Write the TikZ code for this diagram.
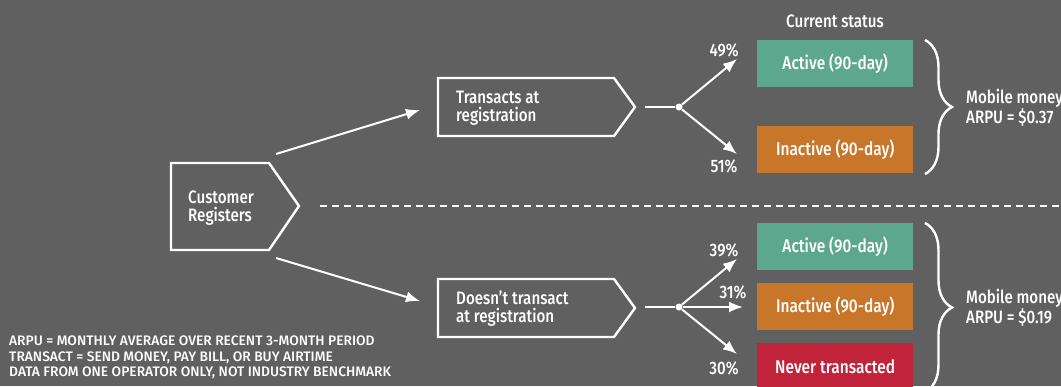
\documentclass[tikz,border=0pt]{standalone}
\usepackage{fontspec}
\setmainfont{Fira Sans}[UprightFont=* Medium,FakeStretch=0.84]
\newfontfamily\notefont{Fira Sans}[UprightFont=* Medium]
\usetikzlibrary{arrows.meta,decorations.pathreplacing}
\definecolor{bg}{RGB}{96,96,96}
\definecolor{actg}{RGB}{94,167,143}
\definecolor{inor}{RGB}{200,118,42}
\definecolor{nvrd}{RGB}{193,36,58}
\tikzset{
  txt/.style={text=white,font=\fontsize{18}{18}\selectfont,align=left,inner sep=0pt},
  pct/.style={text=white,font=\fontsize{18}{18}\selectfont,inner sep=0pt},
  outl/.style={draw=white,line width=2.4pt,line join=miter},
  conn/.style={draw=white,line width=2pt,-{Latex[length=14pt,width=11pt]}},
  plain/.style={draw=white,line width=2pt},
  statbox/.style={minimum width=156pt,minimum height=47pt,inner sep=0pt,text=white,font=\fontsize{18.4}{18}\selectfont},
  brc/.style={draw=white,line width=2.4pt,decorate,decoration={brace,amplitude=27pt}},
  note/.style={text=white,font=\notefont\fontsize{13.8}{15.5}\selectfont,align=left,inner sep=0pt}
}
\begin{document}
\begin{tikzpicture}[x=1pt,y=-1pt]
\clip (0,0) rectangle (1061,386);
\fill[bg] (0,0) rectangle (1061,386);
% Customer registers
\draw[outl] (171,163) -- (269,163) -- (299,206) -- (269,250) -- (171,250) -- cycle;
\node[txt,anchor=west] (cr) at (188,208) {Customer\\Registers};
% Transacts
\draw[outl] (438,78) -- (614,78) -- (635,107) -- (614,136) -- (438,136) -- cycle;
\node[txt,anchor=west] (ta) at (456,108) {Transacts at\\registration};
% Doesn't transact
\draw[outl] (438,279) -- (614,279) -- (635,308) -- (614,337) -- (438,337) -- cycle;
\node[txt,anchor=west] (dt) at (456,309) {Doesn’t transact\\at registration};
% connectors from customer
\coordinate (s1) at (276,154);
\coordinate (e1) at (420,110);
\coordinate (s2) at (276,258);
\coordinate (e2) at (420,301);
\draw[conn] (s1) -- (e1);
\draw[conn] (s2) -- (e2);
% dashed separator
\coordinate (d1) at (320,206);
\coordinate (d2) at (1061,206);
\draw[white,line width=1.3pt,dash pattern=on 7pt off 5pt] (d1) -- (d2);
% top branch
\coordinate (ts) at (645,107);
\node[circle,fill=white,inner sep=0pt,minimum size=7pt] (tdot) at (679,107) {};
\coordinate (ta1) at (737,59);
\coordinate (ta2) at (737,154);
\draw[plain] (ts) -- (tdot);
\draw[conn] (tdot) -- (ta1);
\draw[conn] (tdot) -- (ta2);
\node[pct] (p49) at (724,50) {49\%};
\node[pct] (p51) at (724,166) {51\%};
\node[txt,align=center] (cs) at (835,21) {Current status};
\node[statbox,fill=actg,anchor=north west] (ta_act) at (757,40) {Active (90-day)};
\node[statbox,fill=inor,anchor=north west] (ta_ina) at (757,126) {Inactive (90-day)};
\draw[brc] (925,40) -- (925,174);
\node[txt,anchor=west] (arpu1) at (966,108) {Mobile money\\ARPU = \$0.37};
% bottom branch
\coordinate (bs) at (645,307);
\node[circle,fill=white,inner sep=0pt,minimum size=7pt] (bdot) at (679,307) {};
\coordinate (ba1) at (737,259);
\coordinate (ba2) at (743,307);
\coordinate (ba3) at (737,354);
\draw[plain] (bs) -- (bdot);
\draw[conn] (bdot) -- (ba1);
\draw[conn] (bdot) -- (ba2);
\draw[conn] (bdot) -- (ba3);
\node[pct] (p39) at (724,250) {39\%};
\node[pct] (p31) at (733,292) {31\%};
\node[pct] (p30) at (724,368) {30\%};
\node[statbox,fill=actg,anchor=north west] (dt_act) at (757,223) {Active (90-day)};
\node[statbox,fill=inor,anchor=north west] (dt_ina) at (757,283) {Inactive (90-day)};
\node[statbox,fill=nvrd,anchor=north west] (dt_nev) at (757,343) {Never transacted};
\draw[brc] (925,223) -- (925,392);
\node[txt,anchor=west] (arpu2) at (966,308) {Mobile money\\ARPU = \$0.19};
% notes
\node[note,anchor=north west] (notes) at (9,336) {ARPU = MONTHLY AVERAGE OVER RECENT 3-MONTH PERIOD\\TRANSACT = SEND MONEY, PAY BILL, OR BUY AIRTIME\\DATA FROM ONE OPERATOR ONLY, NOT INDUSTRY BENCHMARK};
\end{tikzpicture}
\end{document}
